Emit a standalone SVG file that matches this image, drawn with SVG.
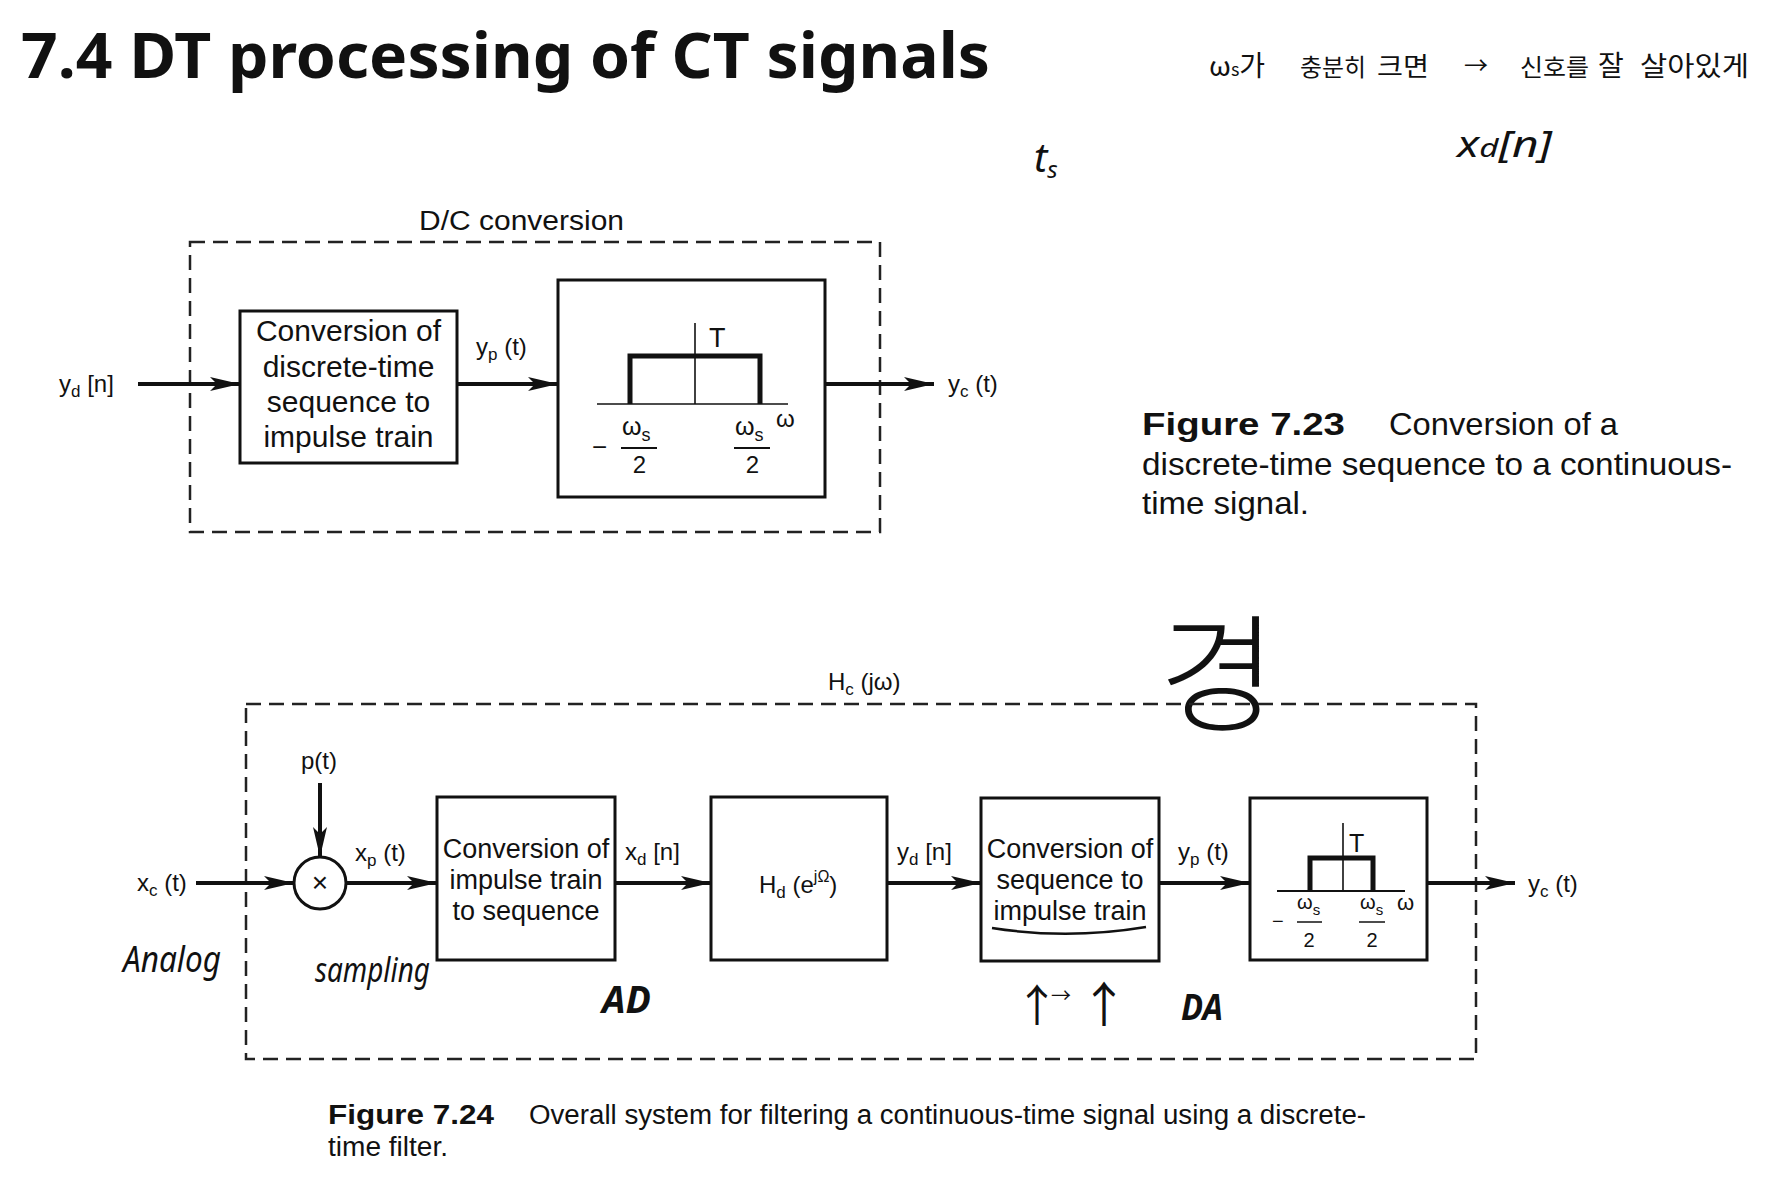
<svg xmlns="http://www.w3.org/2000/svg" width="1792" height="1194" viewBox="0 0 1792 1194">
<style>
  text { font-family: "Liberation Sans", Arial, sans-serif; fill: #111; }
  .lbl { font-size: 24px; }
  .sub { font-size: 17px; }
  .box { fill: none; stroke: #111; stroke-width: 3; }
  .dash { fill: none; stroke: #222; stroke-width: 2.5; stroke-dasharray: 15 8; }
  .wire { fill: none; stroke: #111; stroke-width: 4; }
  .thin { fill: none; stroke: #111; stroke-width: 1.6; }
  .pulse { fill: none; stroke: #111; stroke-width: 5; stroke-linejoin: miter; }
  .bt { font-size: 30px; text-anchor: middle; }
  .bt2 { font-size: 27px; text-anchor: middle; }
  .hand { font-family: "Noto Sans CJK KR", "Noto Sans", sans-serif; fill: #111; }
  .hw { font-family: "Noto Sans", "DejaVu Sans", sans-serif; font-style: italic; fill: #111; }
  .cap { font-family: "Liberation Sans", Arial, sans-serif; }
</style>
<defs>
  <marker id="ah" markerUnits="userSpaceOnUse" markerWidth="34" markerHeight="18" refX="30" refY="8" orient="auto">
    <path d="M0,1 L30,8 L0,15 L7,8 z" fill="#111"/>
  </marker>
</defs>
<rect width="1792" height="1194" fill="#fff"/>

<!-- Title -->
<text id="title" x="21" y="78" style="font-family:'Noto Sans',sans-serif" font-weight="bold" font-size="62" textLength="969" lengthAdjust="spacingAndGlyphs">7.4 DT processing of CT signals</text>

<!-- Handwritten notes -->
<g id="notes">
  <text class="hand" x="1209" y="76" font-size="28">ω<tspan font-size="18">s</tspan>가</text>
  <text class="hand" x="1300" y="76" font-size="24" textLength="66" lengthAdjust="spacingAndGlyphs">충분히</text>
  <text class="hand" x="1377" y="76" font-size="26" textLength="52" lengthAdjust="spacingAndGlyphs">크면</text>
  <text class="hand" x="1464" y="74" font-size="24">→</text>
  <text class="hand" x="1520" y="76" font-size="24" textLength="69" lengthAdjust="spacingAndGlyphs">신호를</text>
  <text class="hand" x="1598" y="76" font-size="28">잘</text>
  <text class="hand" x="1640" y="76" font-size="27" textLength="109" lengthAdjust="spacingAndGlyphs">살아있게</text>
  <text class="hw" x="1457" y="157" font-size="36" textLength="95" lengthAdjust="spacingAndGlyphs">x<tspan font-size="26">d</tspan>[n]</text>
  <text class="hw" x="1034" y="172" font-size="40">t<tspan font-size="24" dy="6">s</tspan></text>
  <text class="hand" x="1218" y="722" font-size="128" text-anchor="middle" font-weight="300">경</text>
  <text class="hw" x="123" y="972" font-size="36" textLength="98" lengthAdjust="spacingAndGlyphs">Analog</text>
  <text class="hw" x="315" y="982" font-size="34" textLength="115" lengthAdjust="spacingAndGlyphs">sampling</text>
  <text class="hw" x="602" y="1013" font-size="38" font-weight="bold" textLength="49" lengthAdjust="spacingAndGlyphs">AD</text>
  <text class="hw" x="1181" y="1020" font-size="36" font-weight="bold" textLength="42" lengthAdjust="spacingAndGlyphs">DA</text>
  <text class="hand" x="1037" y="1022" font-size="44" text-anchor="middle">↑</text>
  <text class="hand" x="1061" y="1003" font-size="20" text-anchor="middle">→</text>
  <text class="hand" x="1104" y="1022" font-size="48" text-anchor="middle">↑</text>
</g>

<!-- ===== Figure 7.23 ===== -->
<g id="dc-frame">
  <rect class="dash" x="190" y="242" width="690" height="290"/>
  <text x="419" y="230" font-size="27" textLength="205" lengthAdjust="spacingAndGlyphs">D/C conversion</text>
</g>

<g id="dc-input-label">
  <text class="lbl" x="59" y="392">y<tspan class="sub" dy="5">d</tspan><tspan dy="-5"> [n]</tspan></text>
</g>

<g id="dc-conv">
  <rect class="box" x="240" y="311" width="217" height="152"/>
  <text class="bt" x="348.5" y="341">Conversion of</text>
  <text class="bt" x="348.5" y="377">discrete-time</text>
  <text class="bt" x="348.5" y="412">sequence to</text>
  <text class="bt" x="348.5" y="447">impulse train</text>
</g>

<g id="dc-yp-label">
  <text class="lbl" x="476" y="355">y<tspan class="sub" dy="5">p</tspan><tspan dy="-5"> (t)</tspan></text>
</g>

<g id="dc-filter">
  <rect class="box" x="558" y="280" width="267" height="217" stroke-width="4.5"/>
  <line class="thin" x1="597" y1="404" x2="788" y2="404"/>
  <line class="thin" x1="695" y1="323" x2="695" y2="404"/>
  <polyline class="pulse" points="630,404 630,356 760,356 760,404"/>
  <text x="709" y="347" font-size="27">T</text>
  <text x="776" y="427" font-size="24">ω</text>
  <text x="592" y="456" font-size="26">−</text>
  <text x="622" y="435" font-size="25">ω<tspan font-size="18" dy="6">s</tspan></text>
  <line x1="621" y1="448" x2="657" y2="448" stroke="#111" stroke-width="2"/>
  <text x="639.5" y="473" font-size="24" text-anchor="middle">2</text>
  <text x="735" y="435" font-size="25">ω<tspan font-size="18" dy="6">s</tspan></text>
  <line x1="734" y1="448" x2="770" y2="448" stroke="#111" stroke-width="2"/>
  <text x="752.5" y="473" font-size="24" text-anchor="middle">2</text>
</g>

<g id="dc-output-label">
  <text class="lbl" x="948" y="392">y<tspan class="sub" dy="5">c</tspan><tspan dy="-5"> (t)</tspan></text>
</g>

<g id="caption-723">
  <text class="cap" x="1142" y="435" font-size="32" font-weight="bold" textLength="203" lengthAdjust="spacingAndGlyphs">Figure 7.23</text>
  <text class="cap" x="1389" y="435" font-size="32" textLength="229" lengthAdjust="spacingAndGlyphs">Conversion of a</text>
  <text class="cap" x="1142" y="475" font-size="32" textLength="590" lengthAdjust="spacingAndGlyphs">discrete-time sequence to a continuous-</text>
  <text class="cap" x="1142" y="514" font-size="32" textLength="167" lengthAdjust="spacingAndGlyphs">time signal.</text>
</g>

<!-- ===== Figure 7.24 ===== -->
<g id="hc-frame">
  <rect class="dash" x="246" y="704" width="1230" height="355" stroke-width="2" stroke-dasharray="16 9"/>
  <text class="lbl" x="828" y="690">H<tspan class="sub" dy="5">c</tspan><tspan dy="-5"> (jω)</tspan></text>
</g>

<g id="xc-label">
  <text class="lbl" x="137" y="891">x<tspan class="sub" dy="5">c</tspan><tspan dy="-5"> (t)</tspan></text>
</g>

<g id="pt-label">
  <text class="lbl" x="301" y="769">p(t)</text>
</g>

<g id="multiplier">
  <circle cx="320" cy="883" r="26" fill="none" stroke="#111" stroke-width="3"/>
  <text x="320" y="892" font-size="28" text-anchor="middle">×</text>
</g>

<g id="xp-label">
  <text class="lbl" x="355" y="861">x<tspan class="sub" dy="5">p</tspan><tspan dy="-5"> (t)</tspan></text>
</g>

<g id="c2d">
  <rect class="box" x="437" y="797" width="178" height="163"/>
  <text class="bt2" x="526" y="858">Conversion of</text>
  <text class="bt2" x="526" y="889">impulse train</text>
  <text class="bt2" x="526" y="920">to sequence</text>
</g>

<g id="xd-label">
  <text class="lbl" x="625" y="860">x<tspan class="sub" dy="5">d</tspan><tspan dy="-5"> [n]</tspan></text>
</g>

<g id="hd">
  <rect class="box" x="711" y="797" width="176" height="163" stroke-width="3.5"/>
  <text class="lbl" x="759" y="893">H<tspan class="sub" dy="5">d</tspan><tspan dy="-5"> (e</tspan><tspan font-size="16" dy="-11">jΩ</tspan><tspan dy="11">)</tspan></text>
</g>

<g id="yd-label">
  <text class="lbl" x="897" y="860">y<tspan class="sub" dy="5">d</tspan><tspan dy="-5"> [n]</tspan></text>
</g>

<g id="d2c">
  <rect class="box" x="981" y="798" width="178" height="163"/>
  <text class="bt2" x="1070" y="858">Conversion of</text>
  <text class="bt2" x="1070" y="889">sequence to</text>
  <text class="bt2" x="1070" y="920">impulse train</text>
  <path d="M992,928 Q1068,940 1146,927" fill="none" stroke="#111" stroke-width="2.5"/>
</g>

<g id="yp-label">
  <text class="lbl" x="1178" y="860">y<tspan class="sub" dy="5">p</tspan><tspan dy="-5"> (t)</tspan></text>
</g>

<g id="lpf">
  <rect class="box" x="1250" y="798" width="177" height="162" stroke-width="4"/>
  <line x1="1277" y1="891" x2="1405" y2="891" stroke="#111" stroke-width="2"/>
  <line class="thin" x1="1343" y1="823" x2="1343" y2="891"/>
  <polyline class="pulse" points="1310,891 1310,858 1373,858 1373,891"/>
  <text x="1349" y="852" font-size="25">T</text>
  <text x="1397" y="910" font-size="22">ω</text>
  <text x="1272" y="928" font-size="20">−</text>
  <text x="1297" y="909" font-size="20">ω<tspan font-size="15" dy="6">s</tspan></text>
  <line x1="1297" y1="922" x2="1322" y2="922" stroke="#111" stroke-width="1.5"/>
  <text x="1309" y="947" font-size="20" text-anchor="middle">2</text>
  <text x="1360" y="909" font-size="20">ω<tspan font-size="15" dy="6">s</tspan></text>
  <line x1="1359" y1="922" x2="1385" y2="922" stroke="#111" stroke-width="1.5"/>
  <text x="1372" y="947" font-size="20" text-anchor="middle">2</text>
</g>

<g id="yc-label">
  <text class="lbl" x="1528" y="892">y<tspan class="sub" dy="5">c</tspan><tspan dy="-5"> (t)</tspan></text>
</g>

<g id="caption-724">
  <text class="cap" x="328" y="1124" font-size="27" font-weight="bold" textLength="166" lengthAdjust="spacingAndGlyphs">Figure 7.24</text>
  <text class="cap" x="529" y="1124" font-size="27" textLength="837" lengthAdjust="spacingAndGlyphs">Overall system for filtering a continuous-time signal using a discrete-</text>
  <text class="cap" x="328" y="1156" font-size="27" textLength="120" lengthAdjust="spacingAndGlyphs">time filter.</text>
</g>

<!-- Connectors -->
<g id="connectors">
  <line class="wire" x1="138" y1="384" x2="240" y2="384" marker-end="url(#ah)"/>
  <line class="wire" x1="457" y1="384" x2="558" y2="384" marker-end="url(#ah)"/>
  <line class="wire" x1="825" y1="384" x2="934" y2="384" marker-end="url(#ah)"/>
  <line class="wire" x1="196" y1="883" x2="294" y2="883" marker-end="url(#ah)"/>
  <line class="wire" x1="320" y1="783" x2="320" y2="857" stroke-width="3" marker-end="url(#ah)"/>
  <line class="wire" x1="346" y1="883" x2="437" y2="883" marker-end="url(#ah)"/>
  <line class="wire" x1="615" y1="883" x2="711" y2="883" marker-end="url(#ah)"/>
  <line class="wire" x1="887" y1="883" x2="981" y2="883" marker-end="url(#ah)"/>
  <line class="wire" x1="1159" y1="883" x2="1250" y2="883" marker-end="url(#ah)"/>
  <line class="wire" x1="1427" y1="883" x2="1515" y2="883" marker-end="url(#ah)"/>
</g>
</svg>
